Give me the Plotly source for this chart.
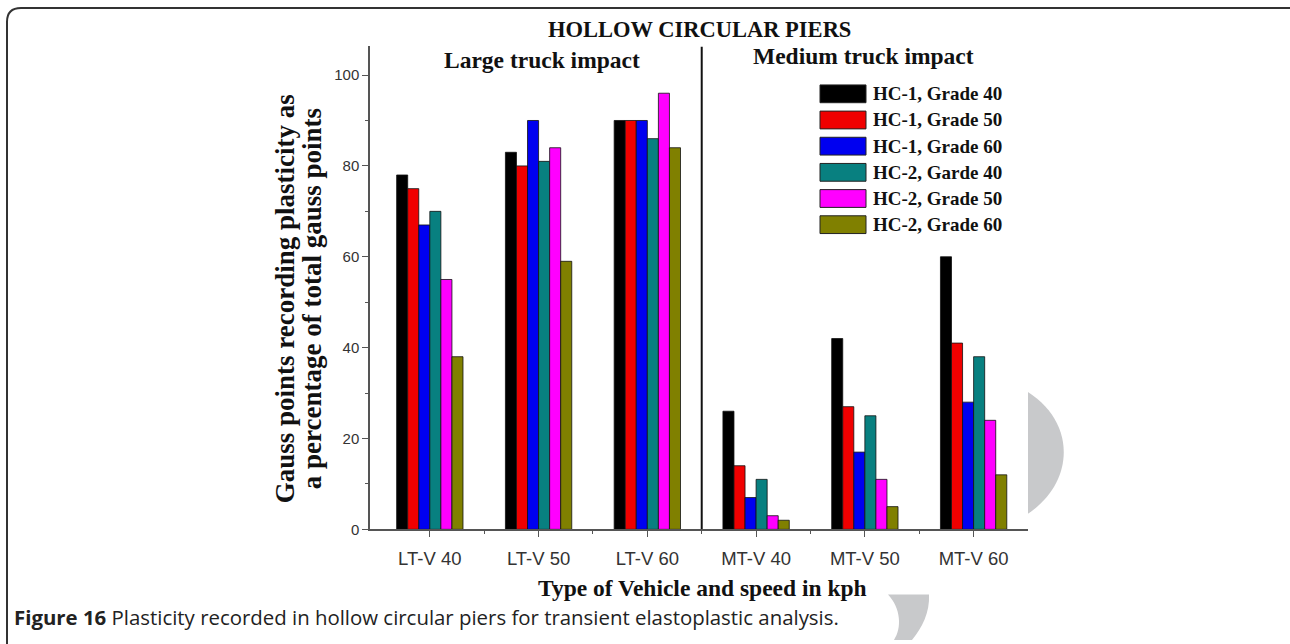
import plotly.graph_objects as go

W, H = 1290, 644

categories = ["LT-V 40", "LT-V 50", "LT-V 60", "MT-V 40", "MT-V 50", "MT-V 60"]
series_names = ["HC-1, Grade 40", "HC-1, Grade 50", "HC-1, Grade 60",
                "HC-2, Garde 40", "HC-2, Grade 50", "HC-2, Grade 60"]
hc1_g40 = [78, 83, 90, 26, 42, 60]
hc1_g50 = [75, 80, 90, 14, 27, 41]
hc1_g60 = [67, 90, 90, 7, 17, 28]
hc2_g40 = [70, 81, 86, 11, 25, 38]
hc2_g50 = [55, 84, 96, 3, 11, 24]
hc2_g60 = [38, 59, 84, 2, 5, 12]
series_values = [hc1_g40, hc1_g50, hc1_g60, hc2_g40, hc2_g50, hc2_g60]
colors = ["#000000", "#f00000", "#0000f0", "#088080", "#ff00ff", "#808000"]
y_ticks = [0, 20, 40, 60, 80, 100]

def px(x):
    return x / W

def py(y):
    return (H - y) / H

serif = "Liberation Serif, Times New Roman, serif"
sans = "Liberation Sans, Arial, sans-serif"
caption_font = "Open Sans, Noto Sans, sans-serif"

x_pos = list(range(len(categories)))

fig = go.Figure()
for name, vals, col in zip(series_names, series_values, colors):
    fig.add_trace(go.Bar(x=x_pos, y=vals, name=name,
                         marker=dict(color=col, line=dict(color="#111111", width=0.8)),
                         showlegend=False))

y_top_px = 47
y_bot_px = 536
y_max = (y_bot_px - y_top_px) / 4.6

fig.update_layout(
    width=W, height=H, autosize=False,
    margin=dict(l=0, r=0, t=0, b=0),
    paper_bgcolor="white", plot_bgcolor="rgba(0,0,0,0)",
    barmode="group", bargap=0.39, bargroupgap=0,
    xaxis=dict(domain=[px(370), px(1028)], range=[-0.55, 5.5],
               tickmode="array", tickvals=x_pos, ticktext=categories,
               showgrid=False, zeroline=False, showline=True,
               linecolor="#555555", linewidth=1.5,
               ticks="outside", ticklen=6, tickcolor="#555555", tickwidth=1.2,
               ticklabelstandoff=6,
               tickfont=dict(family=sans, size=18.5, color="#333333"),
               minor=dict(tickmode="array", tickvals=[i + 0.5 for i in x_pos[:-1]],
                          ticks="outside", ticklen=3, tickcolor="#555555")),
    yaxis=dict(domain=[py(y_bot_px), py(y_top_px)], range=[0, y_max],
               tickmode="array", tickvals=y_ticks,
               showgrid=False, zeroline=False, showline=True,
               linecolor="#555555", linewidth=1.5,
               ticks="outside", ticklen=6, tickcolor="#555555", tickwidth=1.2,
               tickfont=dict(family=sans, size=15, color="#333333"),
               minor=dict(tickmode="array", tickvals=[10, 30, 50, 70, 90],
                          ticks="outside", ticklen=3, tickcolor="#555555")),
)

shapes = []
# watermark pieces (behind the chart image)
shapes.append(dict(type="path", xref="paper", yref="paper", layer="below",
                   path="M {} {} C {} {} {} {} {} {} Z".format(
                       px(1015), py(390), px(1080), py(420), px(1080), py(495), px(1015), py(528)),
                   fillcolor="#c8c9cb", line=dict(width=0)))
shapes.append(dict(type="path", xref="paper", yref="paper", layer="below",
                   path="M {} {} L {} {} C {} {} {} {} {} {} L {} {} C {} {} {} {} {} {} Z".format(
                       px(888), py(602), px(929), py(602),
                       px(930), py(620), px(922), py(636), px(912), py(648),
                       px(894), py(648),
                       px(902), py(636), px(901), py(616), px(888), py(602)),
                   fillcolor="#c8c9cb", line=dict(width=0)))
# white chart image area
shapes.append(dict(type="rect", xref="paper", yref="paper", layer="below",
                   x0=px(240), x1=px(1028), y0=py(600), y1=py(12),
                   fillcolor="white", line=dict(width=0)))
# outer rounded border
r = 14
x0b, y0b, x1b, y1b = 7, 8, 1300, 700
shapes.append(dict(type="path", xref="paper", yref="paper", layer="above",
                   path="M {} {} L {} {} Q {} {} {} {} L {} {}".format(
                       px(x0b), py(y1b), px(x0b), py(y0b + r),
                       px(x0b), py(y0b), px(x0b + r), py(y0b),
                       px(x1b), py(y0b)),
                   line=dict(color="#333333", width=2)))
# divider between large and medium truck impacts
shapes.append(dict(type="line", xref="x", yref="y", x0=2.5, x1=2.5, y0=0, y1=y_max,
                   line=dict(color="#111111", width=2)))

annotations = []
# legend (drawn manually)
leg_y = [95, 121.5, 148, 174.5, 201, 227.5]
for name, col, yy in zip(series_names, colors, leg_y):
    shapes.append(dict(type="rect", xref="paper", yref="paper",
                       x0=px(820), x1=px(866), y0=py(yy + 9), y1=py(yy - 9),
                       fillcolor=col, line=dict(color="#222222", width=1)))
    annotations.append(dict(x=px(871), y=py(yy), xref="paper", yref="paper",
                            text="<b>" + name + "</b>", showarrow=False,
                            xanchor="left", yanchor="middle",
                            font=dict(family=serif, size=19, color="#111111")))

def ann(text, x, y, size, family=serif, xanchor="center", angle=0, color="#111111"):
    annotations.append(dict(x=px(x), y=py(y), xref="paper", yref="paper", text=text,
                            showarrow=False, xanchor=xanchor, yanchor="middle",
                            textangle=angle, font=dict(family=family, size=size, color=color)))

ann("<b>HOLLOW CIRCULAR PIERS</b>", 699, 30, 22.5)
ann("<b>Large truck impact</b>", 542, 61, 23.5)
ann("<b>Medium truck impact</b>", 863, 57, 23.5)
ann("<b>Type of Vehicle and speed in kph</b>", 702, 595, 23.5)
ann("<b>Gauss points recording plasticity as</b>", 285, 303, 27, angle=-90)
ann("<b>a percentage of total gauss points</b>", 312, 303, 27, angle=-90)
annotations.append(dict(x=px(12), y=py(625), xref="paper", yref="paper",
                        text="<b>Figure 16</b> Plasticity recorded in hollow circular piers for transient elastoplastic analysis.",
                        showarrow=False, xanchor="left", yanchor="middle",
                        font=dict(family=caption_font, size=20.4, color="#222222")))

fig.update_layout(shapes=shapes, annotations=annotations)
fig.write_html("out.html")
